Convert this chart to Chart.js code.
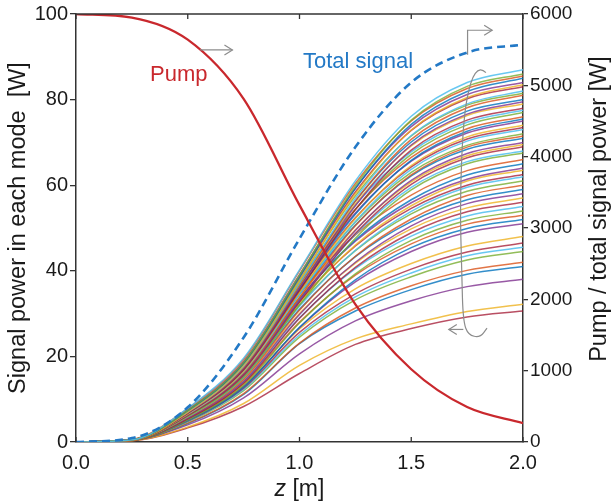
<!DOCTYPE html>
<html>
<head>
<meta charset="utf-8">
<script src="https://cdn.jsdelivr.net/npm/chart.js@4.4.1/dist/chart.umd.min.js"></script>
<style>
  html, body { margin: 0; padding: 0; background: #fff; }
  #chart { display: block; }
</style>
</head>
<body>
<canvas id="chart" width="614" height="504"></canvas>
<script>
var zGrid = [0, 0.25, 0.5, 0.75, 1.0, 1.25, 1.5, 1.75, 2.0];

// signal power in each mode [W] along zGrid (left axis)
var modesTop = [
  [0, 0.5, 7.9, 19.6, 40.2, 61.0, 76.1, 84.0, 87.0],
  [0, 0.5, 7.4, 18.6, 39.0, 59.8, 75.2, 83.1, 86.0],
  [0, 0.6, 7.8, 19.3, 40.0, 60.4, 75.0, 82.6, 85.5],
  [0, 0.5, 7.3, 18.4, 38.6, 59.2, 74.2, 81.9, 85.0],
  [0, 0.5, 7.5, 18.8, 39.1, 59.3, 73.7, 81.2, 84.0],
  [0, 0.4, 7.0, 17.9, 37.6, 58.0, 72.9, 80.5, 83.5],
  [0, 0.5, 7.4, 18.5, 38.5, 58.4, 72.8, 80.2, 83.0],
  [0, 0.5, 7.0, 17.7, 37.1, 56.9, 71.6, 79.0, 82.0],
  [0, 0.5, 7.3, 18.2, 37.9, 57.5, 71.5, 78.7, 81.5],
  [0, 0.4, 6.9, 17.4, 36.8, 56.3, 70.7, 78.1, 81.0],
  [0, 0.5, 7.2, 17.9, 37.2, 56.3, 70.1, 77.3, 80.0],
  [0, 0.5, 6.8, 17.1, 36.0, 55.2, 69.4, 76.6, 79.5],
  [0, 0.5, 7.1, 17.7, 36.7, 55.6, 69.2, 76.3, 79.0],
  [0, 0.4, 6.7, 16.9, 35.4, 54.3, 68.2, 75.2, 78.0]
];
var modesMid = [
  [0, 0.5, 7.3, 18.2, 37.6, 55.4, 67.8, 74.7, 77.5],
  [0, 0.5, 6.9, 17.3, 36.4, 54.3, 67.2, 74.1, 77.0],
  [0, 0.5, 7.2, 17.9, 37.0, 54.4, 66.5, 73.2, 76.0],
  [0, 0.5, 6.8, 17.0, 35.7, 53.2, 65.8, 72.6, 75.5],
  [0, 0.5, 7.0, 17.5, 36.3, 53.5, 65.6, 72.2, 75.0],
  [0, 0.5, 6.6, 16.6, 35.0, 52.2, 64.6, 71.3, 74.0],
  [0, 0.5, 6.9, 17.2, 35.6, 52.4, 64.3, 70.8, 73.5],
  [0, 0.5, 6.5, 16.4, 34.5, 51.5, 63.7, 70.3, 73.0],
  [0, 0.5, 6.8, 16.9, 35.0, 51.4, 63.0, 69.3, 72.0],
  [0, 0.5, 6.4, 16.1, 33.8, 50.5, 62.4, 68.9, 71.5],
  [0, 0.5, 6.7, 16.6, 34.5, 50.7, 62.2, 68.4, 71.0],
  [0, 0.5, 6.3, 15.8, 33.1, 49.4, 61.1, 67.4, 70.0],
  [0, 0.5, 6.6, 16.3, 33.8, 49.6, 60.8, 66.9, 69.5],
  [0, 0.5, 6.2, 15.6, 32.7, 48.7, 60.2, 66.4, 69.0],
  [0, 0.5, 6.5, 16.0, 33.0, 48.5, 59.5, 65.5, 68.0],
  [0, 0.4, 6.0, 15.2, 32.0, 47.6, 58.9, 65.0, 67.5]
];
var modesLow = [
  [0, 0.5, 6.7, 16.8, 34.6, 48.4, 57.7, 63.4, 66.0],
  [0, 0.5, 6.3, 16.0, 33.5, 47.2, 56.6, 62.4, 65.0],
  [0, 0.5, 6.5, 16.4, 33.6, 46.9, 55.9, 61.4, 64.0],
  [0, 0.5, 6.1, 15.6, 32.6, 46.0, 55.2, 61.0, 63.5],
  [0, 0.5, 6.3, 15.9, 32.8, 45.8, 54.6, 60.0, 62.5],
  [0, 0.5, 5.9, 15.1, 31.7, 44.8, 53.9, 59.5, 62.0],
  [0, 0.5, 6.2, 15.6, 32.0, 44.7, 53.3, 58.6, 61.0],
  [0, 0.5, 5.8, 14.7, 30.8, 43.4, 52.1, 57.6, 60.0],
  [0, 0.5, 6.0, 15.1, 31.0, 43.3, 51.5, 56.6, 59.0],
  [0, 0.4, 5.6, 14.2, 29.8, 42.0, 50.5, 55.7, 58.0],
  [0, 0.5, 5.8, 14.6, 30.0, 41.8, 49.8, 54.7, 57.0],
  [0, 0.4, 5.4, 13.8, 28.9, 40.8, 48.9, 53.8, 56.0],
  [0, 0.5, 5.6, 14.1, 29.0, 40.5, 48.1, 52.8, 55.0],
  [0, 0.4, 5.2, 13.3, 27.8, 39.3, 47.1, 51.8, 54.0],
  [0, 0.4, 5.4, 13.6, 28.0, 39.0, 46.3, 50.9, 53.0],
  [0, 0.4, 5.0, 12.8, 26.8, 37.9, 45.4, 49.9, 52.0],
  [0, 0.4, 5.1, 13.0, 26.7, 37.4, 44.5, 49.0, 51.0]
];
var modesSparse = [
  [0, 0.5, 5.0, 13.0, 26.4, 35.8, 41.7, 45.8, 48.0],
  [0, 0.5, 4.9, 12.6, 25.6, 34.6, 40.4, 44.4, 46.5],
  [0, 0.5, 4.8, 12.3, 25.0, 33.9, 39.5, 43.5, 45.5],
  [0, 0.4, 4.7, 12.0, 24.5, 33.2, 38.6, 42.5, 44.5],
  [0, 0.4, 4.4, 11.3, 23.1, 31.3, 36.5, 40.1, 42.0],
  [0, 0.4, 4.3, 11.1, 23.0, 30.6, 35.6, 39.2, 41.0],
  [0, 0.4, 4.0, 10.3, 20.6, 28.3, 33.0, 36.3, 38.0],
  [0, 0.3, 3.5, 9.0, 17.9, 24.1, 27.6, 30.5, 32.2],
  [0, 0.3, 3.3, 8.3, 16.0, 22.8, 26.5, 29.2, 30.6]
];

// pump and total signal power [W] (right axis)
var powerZ = [0, 0.25, 0.5, 0.75, 1.0, 1.25, 1.5, 1.75, 2.0];
var pumpPower = [6000, 5950, 5640, 4810, 3320, 1930, 1020, 490, 265];
var totalPower = [0, 55, 486, 1465, 2850, 4135, 5040, 5460, 5570];

var zTicks = [0, 0.5, 1.0, 1.5, 2.0];
var modeTicks = [0, 20, 40, 60, 80, 100];
var powerTicks = [0, 1000, 2000, 3000, 4000, 5000, 6000];

var palette = ['rgba(77,190,238,0.85)', 'rgba(119,172,48,0.8)', 'rgba(217,83,25,0.8)',
  'rgba(0,114,189,0.8)', 'rgba(126,47,142,0.8)', 'rgba(237,177,32,0.8)', 'rgba(162,20,47,0.75)'];
var FONT = "'Liberation Sans', Arial, sans-serif";
var INK = '#333';

function pairs(xs, ys) {
  return xs.map(function (x, i) { return { x: x, y: ys[i] }; });
}

var datasets = [
  { data: pairs(powerZ, pumpPower), yAxisID: 'y2', borderColor: '#c9282d', borderWidth: 2.3 },
  { data: pairs(powerZ, totalPower), yAxisID: 'y2', borderColor: '#2379c6', borderWidth: 2.6, borderDash: [8, 5] }
];
var modes = modesTop.concat(modesMid, modesLow, modesSparse);
modes.forEach(function (row, i) {
  datasets.push({ data: pairs(zGrid, row), yAxisID: 'y', borderColor: palette[i % palette.length], borderWidth: 1.5 });
});

function gray(ctx) { ctx.strokeStyle = '#8c8c8c'; ctx.lineWidth = 1.2; }
function arrowHead(ctx, x, y, dir) {
  ctx.beginPath();
  ctx.moveTo(x - dir * 8, y - 5);
  ctx.lineTo(x, y);
  ctx.lineTo(x - dir * 8, y + 5);
  ctx.stroke();
}

var extras = {
  id: 'extras',
  afterDatasetsDraw: function (chart) {
    var ctx = chart.ctx, a = chart.chartArea;
    var sx = chart.scales.x, sy = chart.scales.y;
    function P(z, v) { return [sx.getPixelForValue(z), sy.getPixelForValue(v)]; }
    ctx.save();

    // frame top and inward z ticks
    ctx.strokeStyle = INK;
    ctx.lineWidth = 1.5;
    ctx.beginPath(); ctx.moveTo(a.left, a.top); ctx.lineTo(a.right, a.top); ctx.stroke();
    ctx.lineWidth = 1.3;
    zTicks.forEach(function (t) {
      var px = sx.getPixelForValue(t);
      ctx.beginPath();
      ctx.moveTo(px, a.top); ctx.lineTo(px, a.top + 5);
      ctx.moveTo(px, a.bottom); ctx.lineTo(px, a.bottom - 5);
      ctx.stroke();
    });

    // arrow from pump curve to the right axis
    gray(ctx);
    var p1 = P(0.555, 91.6), p2 = P(0.70, 91.6);
    ctx.beginPath(); ctx.moveTo(p1[0], p1[1]); ctx.lineTo(p2[0], p2[1]); ctx.stroke();
    arrowHead(ctx, p2[0], p2[1], 1);

    // bent arrow from total signal to the right axis
    var q1 = P(1.752, 90.5), q2 = P(1.752, 96.2), q3 = P(1.862, 96.2);
    ctx.beginPath(); ctx.moveTo(q1[0], q1[1]); ctx.lineTo(q2[0], q2[1]); ctx.lineTo(q3[0], q3[1]); ctx.stroke();
    arrowHead(ctx, q3[0], q3[1], 1);

    // loop round the mode curves, pointing to the left axis
    var loop = [P(1.834, 86.3), P(1.808, 87.7), P(1.765, 84.6), P(1.733, 75.4), P(1.718, 56.1),
      P(1.726, 39.2), P(1.732, 28.3), P(1.755, 25.0), P(1.808, 24.4), P(1.839, 26.6)];
    ctx.beginPath();
    ctx.moveTo(loop[0][0], loop[0][1]);
    for (var i = 1; i < loop.length - 1; i++) {
      var mx = (loop[i][0] + loop[i + 1][0]) / 2, my = (loop[i][1] + loop[i + 1][1]) / 2;
      ctx.quadraticCurveTo(loop[i][0], loop[i][1], mx, my);
    }
    ctx.lineTo(loop[loop.length - 1][0], loop[loop.length - 1][1]);
    ctx.stroke();
    var r1 = P(1.733, 26.3), r2 = P(1.668, 26.3);
    ctx.beginPath(); ctx.moveTo(r1[0], r1[1]); ctx.lineTo(r2[0], r2[1]); ctx.stroke();
    arrowHead(ctx, r2[0], r2[1], -1);

    // curve labels
    ctx.font = '22px ' + FONT;
    ctx.textBaseline = 'alphabetic';
    ctx.textAlign = 'left';
    ctx.fillStyle = '#c9282d';
    ctx.fillText('Pump', 150, 81);
    ctx.fillStyle = '#2379c6';
    ctx.fillText('Total signal', 303, 68);
    ctx.restore();
  },
  afterDraw: function (chart) {
    var ctx = chart.ctx, a = chart.chartArea;
    ctx.save();
    ctx.fillStyle = '#1a1a1a';
    ctx.font = '23.5px ' + FONT;
    ctx.textAlign = 'center';
    ctx.textBaseline = 'middle';
    ctx.save();
    ctx.translate(19, (a.top + a.bottom) / 2);
    ctx.rotate(-Math.PI / 2);
    ctx.fillText('Signal power in each mode  [W]', 0, 0);
    ctx.restore();
    ctx.save();
    ctx.translate(600, 209);
    ctx.rotate(-Math.PI / 2);
    ctx.fillText('Pump / total signal power [W]', 0, 0);
    ctx.restore();

    // z [m] with italic z
    ctx.textBaseline = 'alphabetic';
    ctx.textAlign = 'left';
    ctx.font = 'italic 23px ' + FONT;
    var wz = ctx.measureText('z').width;
    ctx.font = '23px ' + FONT;
    var wr = ctx.measureText(' [m]').width;
    var x0 = (a.left + a.right) / 2 - (wz + wr) / 2;
    ctx.font = 'italic 23px ' + FONT;
    ctx.fillText('z', x0, 496);
    ctx.font = '23px ' + FONT;
    ctx.fillText(' [m]', x0 + wz, 496);
    ctx.restore();
  }
};

function fixedTicks(list) {
  return function (scale) { scale.ticks = list.map(function (v) { return { value: v }; }); };
}

new Chart(document.getElementById('chart'), {
  type: 'line',
  data: { datasets: datasets },
  options: {
    responsive: false,
    animation: false,
    devicePixelRatio: 1,
    layout: { padding: { top: 11, left: 0, right: 0, bottom: 0 } },
    elements: {
      point: { radius: 0 },
      line: { cubicInterpolationMode: 'monotone', fill: false }
    },
    plugins: { legend: { display: false }, tooltip: { enabled: false } },
    scales: {
      x: {
        type: 'linear', min: 0, max: 2,
        afterBuildTicks: fixedTicks(zTicks),
        afterFit: function (s) { s.height = 62; },
        grid: { display: false },
        border: { display: true, color: INK, width: 1.5 },
        ticks: { font: { family: FONT, size: 20 }, color: '#1a1a1a', padding: 1,
          callback: function (v) { return Number(v).toFixed(1); } }
      },
      y: {
        type: 'linear', position: 'left', min: 0, max: 100,
        afterBuildTicks: fixedTicks(modeTicks),
        afterFit: function (s) { s.width = 76; },
        grid: { drawOnChartArea: false, tickLength: 6, color: INK, lineWidth: 1.3 },
        border: { display: true, color: INK, width: 1.5 },
        ticks: { font: { family: FONT, size: 20 }, color: '#1a1a1a', padding: 2,
          callback: function (v) { return String(v); } }
      },
      y2: {
        type: 'linear', position: 'right', min: 0, max: 6000,
        afterBuildTicks: fixedTicks(powerTicks),
        afterFit: function (s) { s.width = 91; },
        grid: { drawOnChartArea: false, tickLength: 5, color: INK, lineWidth: 1.3 },
        border: { display: true, color: INK, width: 1.5 },
        ticks: { font: { family: FONT, size: 19 }, color: '#1a1a1a', padding: 2,
          callback: function (v) { return String(v); } }
      }
    }
  },
  plugins: [extras]
});
</script>
</body>
</html>
